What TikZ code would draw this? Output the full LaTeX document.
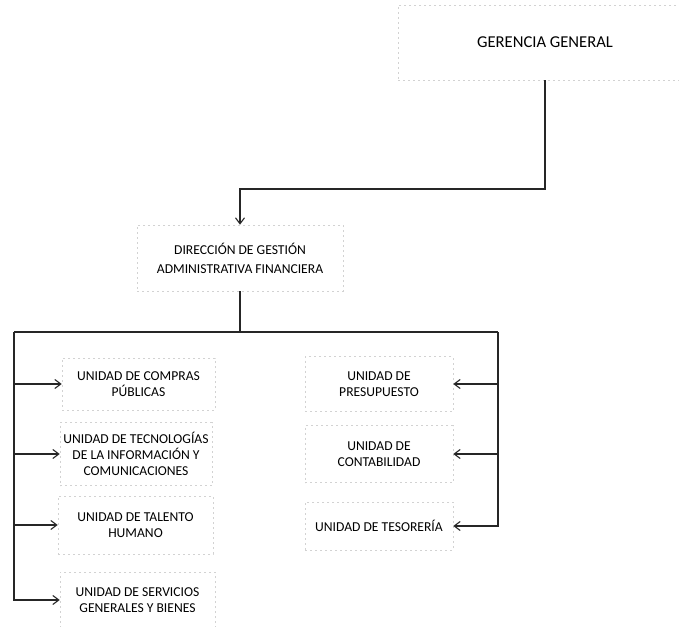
\documentclass[tikz,border=0pt]{standalone}
\usepackage{fontspec}
\setmainfont{Carlito}
\usetikzlibrary{arrows.meta}
\begin{document}
\begin{tikzpicture}[x=1pt,y=-1pt,
  unitbox/.style={draw=gray!35, line width=0.6pt, dash pattern=on 2pt off 3pt,
    align=center, inner sep=0pt, font=\fontsize{13.6}{16}\selectfont, text=black},
  conn/.style={draw=black!85, line width=1.3pt},
  arr/.style={conn, -{Straight Barb[length=6pt,width=9pt,line width=1.1pt]}}]
\useasboundingbox (0,0) rectangle (679,626);
% boxes
\node[unitbox, minimum width=294pt, minimum height=75pt, font=\fontsize{16.6}{19}\selectfont] (ger) at (545,42.5) {GERENCIA GENERAL};
\node[unitbox, minimum width=206pt, minimum height=66pt, font=\fontsize{13.6}{19}\selectfont] (dir) at (240,258) {DIRECCIÓN DE GESTIÓN\\ADMINISTRATIVA FINANCIERA};
\node[unitbox, minimum width=153pt, minimum height=52pt] (com) at (138.5,384) {UNIDAD DE COMPRAS\\PÚBLICAS};
\node[unitbox, minimum width=152pt, minimum height=63pt] (tec) at (136,454) {UNIDAD DE TECNOLOGÍAS\\DE LA INFORMACIÓN Y\\COMUNICACIONES};
\node[unitbox, minimum width=155pt, minimum height=58pt] (tal) at (135.5,525) {UNIDAD DE TALENTO\\HUMANO};
\node[unitbox, minimum width=155pt, minimum height=56pt] (ser) at (137.5,600) {UNIDAD DE SERVICIOS\\GENERALES Y BIENES};
\node[unitbox, minimum width=148pt, minimum height=55pt] (pre) at (379,384) {UNIDAD DE\\PRESUPUESTO};
\node[unitbox, minimum width=148pt, minimum height=57pt] (con) at (379,454) {UNIDAD DE\\CONTABILIDAD};
\node[unitbox, minimum width=148pt, minimum height=48pt] (tes) at (379,526) {UNIDAD DE TESORERÍA};
% junctions
\coordinate (j1) at (545,189);
\coordinate (bt) at (240,332);
\coordinate (bl) at (14,332);
\coordinate (br) at (498,332);
% connectors
\draw[arr] (ger.south) -- (j1) -| (dir.north);
\draw[conn] (dir.south) -- (bt);
\draw[conn] (bl) -- (br);
\draw[arr] (bl) |- (com.west);
\draw[arr] (bl) |- (tec.west);
\draw[arr] (bl) |- (tal.west);
\draw[arr] (bl) |- (ser.west);
\draw[arr] (br) |- (pre.east);
\draw[arr] (br) |- (con.east);
\draw[arr] (br) |- (tes.east);
\end{tikzpicture}
\end{document}
